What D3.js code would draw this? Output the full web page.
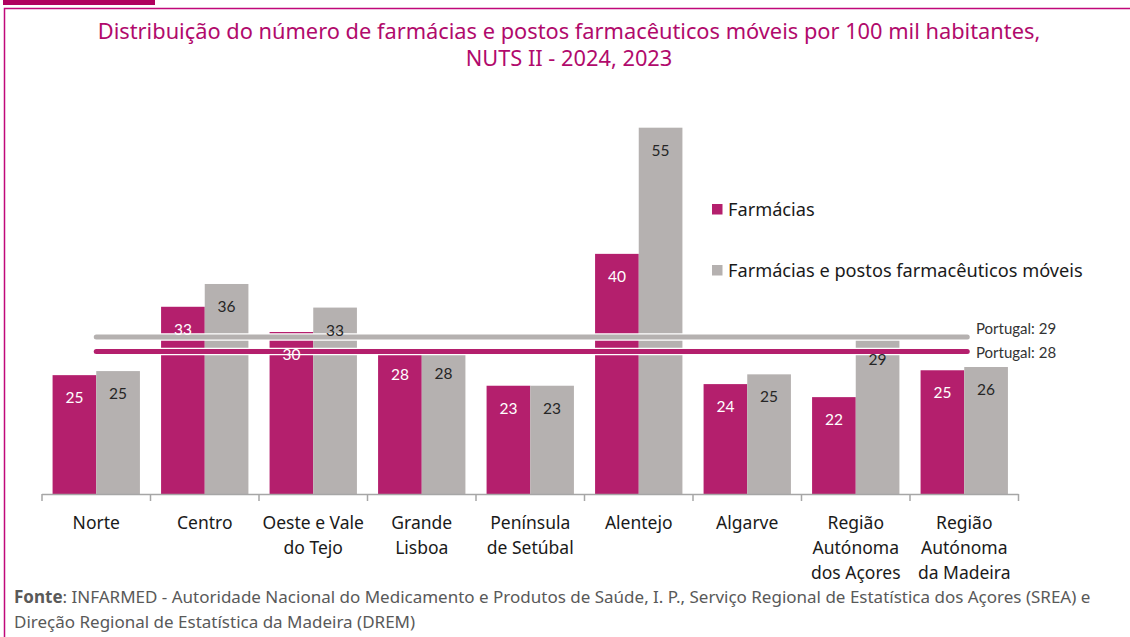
<!DOCTYPE html>
<html>
<head>
<meta charset="utf-8">
<script src="https://cdn.jsdelivr.net/npm/d3@7"></script>
<style>
  body { margin: 0; background: #fff; }
  svg { display: block; }
</style>
</head>
<body>
<div id="chart"></div>
<script>
// data
const regions = [["Norte"], ["Centro"], ["Oeste e Vale", "do Tejo"], ["Grande", "Lisboa"],
  ["Península", "de Setúbal"], ["Alentejo"], ["Algarve"], ["Região", "Autónoma", "dos Açores"],
  ["Região", "Autónoma", "da Madeira"]];
const farmacias = [24.7, 33.1, 30.0, 27.5, 23.4, 39.6, 23.6, 22.0, 25.3];
const farmaciasPostos = [25.2, 35.9, 33.0, 27.6, 23.4, 55.1, 24.8, 29.4, 25.7];
const portugalFarmacias = 27.6;
const portugalPostos = 29.4;
const seriesNames = ["Farmácias", "Farmácias e postos farmacêuticos móveis"];

const W = 1130, H = 637;
const magenta = "#b41f6d", grey = "#b5b1b0", frame = "#c0087a";
const font = "Lato, 'Open Sans', sans-serif";
const noto = "'Noto Sans', sans-serif";

const svg = d3.select("#chart").append("svg")
    .attr("width", W)
    .attr("height", H);

// frame and tab
svg.append("rect").attr("x", 3).attr("y", 0).attr("width", 152).attr("height", 5).attr("fill", "#b0005f");
svg.append("path")
    .attr("d", "M4.5,640 V8.5 H1140")
    .attr("fill", "none").attr("stroke", frame).attr("stroke-width", 1.5);

// title
svg.append("text")
    .attr("x", 569).attr("y", 0)
    .attr("text-anchor", "middle")
    .style("font-family", noto)
    .style("font-size", "21.8px")
    .attr("fill", "#b10a6c")
  .selectAll("tspan")
  .data(["Distribuição do número de farmácias e postos farmacêuticos móveis por 100 mil habitantes,",
         "NUTS II - 2024, 2023"])
  .join("tspan")
    .attr("x", 569)
    .attr("y", (d, i) => 39 + i * 27)
    .text(d => d);

// scales
const x = d3.scaleBand()
    .domain(d3.range(regions.length))
    .range([42, 1018.5])
    .paddingInner(0.195)
    .paddingOuter(0.0975);
const xs = d3.scaleBand().domain([0, 1]).range([0, x.bandwidth()]);
const y = d3.scaleLinear().domain([10.1, 60]).range([494, 87.8]);
const baseY = y(10.1);

const rows = regions.map((r, i) => ({i, vals: [farmacias[i], farmaciasPostos[i]]}));

// bars
svg.append("g").selectAll("g")
  .data(rows)
  .join("g")
    .attr("transform", d => `translate(${x(d.i)},0)`)
  .selectAll("rect")
  .data(d => d.vals)
  .join("rect")
    .attr("x", (d, j) => xs(j))
    .attr("y", d => y(d))
    .attr("width", xs.bandwidth())
    .attr("height", d => baseY - y(d))
    .attr("fill", (d, j) => j === 0 ? magenta : grey);

// portugal lines
const lineX1 = x(0) + x.bandwidth() / 2;
const lineX2 = x(regions.length - 1) + x.bandwidth() / 2 + 3;
const ptLines = [
  {v: portugalPostos, c: grey, label: "Portugal: 29"},
  {v: portugalFarmacias, c: magenta, label: "Portugal: 28"}
];
const lg = svg.append("g");
lg.selectAll("line.halo")
  .data(ptLines)
  .join("line")
    .attr("class", "halo")
    .attr("x1", lineX1).attr("x2", lineX2)
    .attr("y1", d => y(d.v)).attr("y2", d => y(d.v))
    .attr("stroke", "#fff").attr("stroke-width", 7.5)
    .attr("stroke-linecap", "round");
lg.selectAll("line.pt")
  .data(ptLines)
  .join("line")
    .attr("class", "pt")
    .attr("x1", lineX1).attr("x2", lineX2)
    .attr("y1", d => y(d.v)).attr("y2", d => y(d.v))
    .attr("stroke", d => d.c).attr("stroke-width", 5)
    .attr("stroke-linecap", "round");
lg.selectAll("text")
  .data(ptLines)
  .join("text")
    .attr("x", 976)
    .attr("y", (d, i) => i === 0 ? 329 : 353)
    .attr("dy", "0.35em")
    .style("font-family", font)
    .style("font-size", "15px")
    .attr("fill", "#333")
    .text(d => d.label);

// value labels (drawn above the lines)
svg.append("g").selectAll("g")
  .data(rows)
  .join("g")
    .attr("transform", d => `translate(${x(d.i)},0)`)
  .selectAll("text")
  .data(d => d.vals)
  .join("text")
    .attr("x", (d, j) => xs(j) + xs.bandwidth() / 2)
    .attr("y", d => y(d) + 22.5)
    .attr("dy", "0.35em")
    .attr("text-anchor", "middle")
    .style("font-family", font)
    .style("font-size", "15.5px")
    .attr("fill", (d, j) => j === 0 ? "#fff" : "#262626")
    .text(d => d3.format(".0f")(d));

// category axis
svg.append("line")
    .attr("x1", 42).attr("x2", 1018.5)
    .attr("y1", 494.5).attr("y2", 494.5)
    .attr("stroke", "#a6a6a6").attr("stroke-width", 1.5);
svg.append("g").selectAll("line")
  .data(d3.range(regions.length + 1))
  .join("line")
    .attr("x1", i => x.step() * i + 42).attr("x2", i => x.step() * i + 42)
    .attr("y1", 494).attr("y2", 501)
    .attr("stroke", "#a6a6a6").attr("stroke-width", 1.5);

svg.append("g").selectAll("text")
  .data(regions.map((r, i) => ({r, i})))
  .join("text")
    .attr("text-anchor", "middle")
    .style("font-family", noto)
    .style("font-size", "17.5px")
    .attr("fill", "#1a1a1a")
  .selectAll("tspan")
  .data(d => d.r.map((t, k) => ({t, k, i: d.i})))
  .join("tspan")
    .attr("x", d => x(d.i) + x.bandwidth() / 2)
    .attr("y", d => 528.5 + d.k * 25)
    .text(d => d.t);

// legend
const leg = svg.append("g").attr("transform", "translate(712,0)");
leg.selectAll("rect")
  .data(seriesNames)
  .join("rect")
    .attr("x", 0)
    .attr("y", (d, i) => 204 + i * 61)
    .attr("width", 10.5).attr("height", 10.5)
    .attr("fill", (d, i) => i === 0 ? magenta : grey);
leg.selectAll("text")
  .data(seriesNames)
  .join("text")
    .attr("x", 16)
    .attr("y", (d, i) => 215.5 + i * 61)
    .style("font-family", noto)
    .style("font-size", "18.2px")
    .attr("fill", "#1a1a1a")
    .text(d => d);

// source note
const note = svg.append("g")
    .style("font-family", noto)
    .style("font-size", "17px")
    .attr("fill", "#595959");
const l1 = note.append("text").attr("x", 14).attr("y", 602.5);
l1.append("tspan").attr("font-weight", "bold").text("Fonte");
l1.append("tspan").text(": INFARMED - Autoridade Nacional do Medicamento e Produtos de  Saúde, I. P., Serviço Regional de Estatística dos Açores (SREA) e");
note.append("text").attr("x", 14).attr("y", 628)
    .text("Direção Regional de Estatística da Madeira (DREM)");
</script>
</body>
</html>
